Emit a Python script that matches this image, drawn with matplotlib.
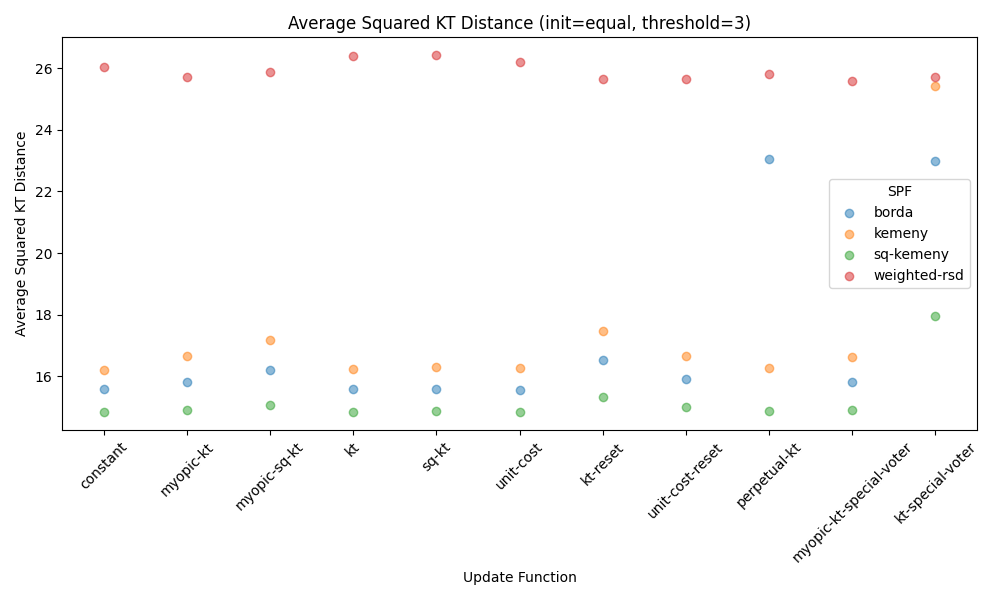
import matplotlib
matplotlib.use("Agg")
import matplotlib.pyplot as plt

categories = ["constant", "myopic-kt", "myopic-sq-kt", "kt", "sq-kt", "unit-cost",
              "kt-reset", "unit-cost-reset", "perpetual-kt", "myopic-kt-special-voter",
              "kt-special-voter"]
borda = [15.58, 15.80, 16.19, 15.58, 15.58, 15.55, 16.52, 15.90, 23.05, 15.80, 22.98]
kemeny = [16.19, 16.65, 17.17, 16.23, 16.29, 16.26, 17.46, 16.65, 16.26, 16.62, 25.42]
sq_kemeny = [14.83, 14.90, 15.06, 14.83, 14.86, 14.83, 15.32, 14.99, 14.86, 14.90, 17.95]
weighted_rsd = [26.03, 25.70, 25.87, 26.39, 26.42, 26.20, 25.64, 25.64, 25.80, 25.58, 25.70]

series = [("borda", borda), ("kemeny", kemeny), ("sq-kemeny", sq_kemeny), ("weighted-rsd", weighted_rsd)]

fig, ax = plt.subplots(figsize=(10, 6), dpi=100)
x = list(range(len(categories)))
for name, vals in series:
    ax.scatter(x, vals, alpha=0.5, label=name)
ax.set_xticks(x)
ax.set_xticklabels(categories, rotation=45)
ax.set_xlabel("Update Function")
ax.set_ylabel("Average Squared KT Distance")
ax.set_title("Average Squared KT Distance (init=equal, threshold=3)")
ax.legend(title="SPF", loc="center right")
fig.tight_layout()
fig.savefig("out.png")
